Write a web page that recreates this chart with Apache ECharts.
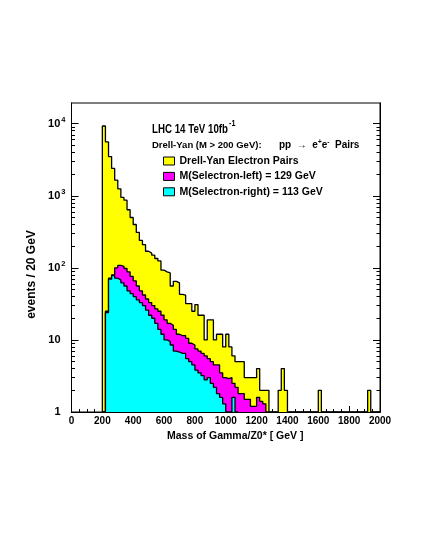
<!DOCTYPE html>
<html>
<head>
<meta charset="utf-8">
<script src="https://cdn.jsdelivr.net/npm/echarts@6/dist/echarts.min.js"></script>
<style>
  html, body { margin: 0; background: #fff; }
  #chart { width: 425px; height: 550px; }
</style>
</head>
<body>
<div id="chart"></div>
<script>
// 20 GeV bins, first lower edge at 200 GeV
const binLow = 200
const binWidth = 20

// events / 20 GeV, bins 200 ... 1980
const drellYan = [
  9300, 5600, 3500, 2400, 1650, 1250, 950, 870, 640, 500,
  400, 310, 240, 210, 170, 160, 150, 135, 125, 93,
  88, 85, 56, 65, 62, 43, 42, 32, 32, 25,
  31, 22, 22, 10, 19, 19, 10, 12, 12, 8,
  12, 8, 6, 5, 5, 5, 3, 3, 3, 3,
  4, 2, 2, 2, 0, 0, 0, 2, 4, 2,
  0, 0, 0, 0, 0, 0, 0, 0, 0, 0,
  2, 0, 0, 0, 0, 0, 0, 0, 0, 0,
  0, 0, 0, 0, 0, 0, 2, 0, 0, 0
]
const selLeft = [
  0, 25, 72, 80, 100, 108, 105, 98, 88, 76,
  66, 56, 48, 42, 37, 33, 30, 27, 25, 22,
  19, 17, 16, 14, 12, 11.5, 11.5, 10.5, 9, 8.5,
  7.5, 7, 6.5, 6, 5.5, 5, 4.5, 4.5, 3.5, 3,
  2.9, 3, 2.5, 2.2, 1.8, 1.8, 1.5, 1.5, 1.2, 1.2,
  1.6, 1.4, 1.3, 0
]
const selRight = [
  0, 24, 70, 78, 72, 68, 62, 56, 48, 44,
  40, 36, 33, 30, 26, 22, 20, 17, 14, 12,
  10, 9.5, 8.5, 7, 6.8, 6.5, 6.5, 5.5, 5, 4.5,
  3.8, 3.5, 3.2, 2.8, 3, 2.5, 2.2, 1.8, 1.6, 1.3,
  0, 0, 1.6, 0
]

const yMajor = [1, 10, 100, 1000, 10000]
const yMinor = [
  2, 3, 4, 5, 6, 7, 8, 9,
  20, 30, 40, 50, 60, 70, 80, 90,
  200, 300, 400, 500, 600, 700, 800, 900,
  2000, 3000, 4000, 5000, 6000, 7000, 8000, 9000
]

const FONT = '"Liberation Sans", Arial, Helvetica, sans-serif'

// histogram outline as a step line, empty bins sit on the axis floor
function histPoints(vals) {
  const pts = [[binLow, 1]]
  vals.forEach((v, i) => {
    pts.push([binLow + i * binWidth, Math.max(v, 1)])
  })
  pts.push([binLow + vals.length * binWidth, 1])
  return pts
}

function histSeries(name, vals, fill, z) {
  return {
    name: name,
    type: 'line',
    step: 'end',
    data: histPoints(vals),
    showSymbol: false,
    symbol: 'none',
    z: z,
    itemStyle: { color: fill },
    lineStyle: { color: '#000', width: 1.3 },
    areaStyle: { color: fill, opacity: 1, origin: 'start' },
    emphasis: { disabled: true }
  }
}

function logAxis(pos, ticks, len, labels) {
  return {
    type: 'log',
    logBase: 10,
    position: pos,
    min: 1,
    max: 19400,
    axisLine: { show: true, onZero: false, lineStyle: { color: '#000', width: 1 } },
    axisTick: { show: true, inside: true, length: len, customValues: ticks, lineStyle: { color: '#000' } },
    axisLabel: labels ? {
      show: true,
      customValues: yMajor,
      margin: 6,
      color: '#000',
      fontFamily: FONT,
      fontWeight: 'bold',
      fontSize: 11,
      formatter: function (v) {
        const e = Math.round(Math.log10(v))
        return e < 2 ? '{b|' + v + '}{sp|}' : '{b|10}{e|' + e + '}'
      },
      rich: {
        b: { fontSize: 11, fontWeight: 'bold', fontFamily: FONT, color: '#000' },
        e: { fontSize: 7.5, fontWeight: 'bold', fontFamily: FONT, color: '#000', padding: [0, 0, 8, 1] },
        sp: { width: 5 }
      }
    } : { show: false },
    splitLine: { show: false },
    name: labels ? 'events / 20 GeV' : '',
    nameLocation: 'middle',
    nameGap: 32,
    nameTextStyle: { fontFamily: FONT, fontWeight: 'bold', fontSize: 12, color: '#000', padding: [0, 34, 0, 0] }
  }
}

const chart = echarts.init(document.getElementById('chart'))
chart.setOption({
  animation: false,
  backgroundColor: '#fff',
  grid: {
    left: 71.5, right: 45, top: 103, bottom: 138,
    show: true, borderColor: '#000', borderWidth: 1, backgroundColor: 'transparent'
  },
  xAxis: {
    type: 'value',
    min: 0,
    max: 2000,
    interval: 200,
    axisLine: { show: true, onZero: false, lineStyle: { color: '#000' } },
    axisTick: { show: true, inside: true, length: 6, lineStyle: { color: '#000' } },
    minorTick: { show: true, splitNumber: 4, length: 3, lineStyle: { color: '#000' } },
    axisLabel: {
      color: '#000', fontFamily: FONT, fontWeight: 'bold', fontSize: 10, margin: 4,
      formatter: function (v) { return String(v) }
    },
    splitLine: { show: false },
    name: 'Mass of Gamma/Z0* [ GeV ]',
    nameLocation: 'middle',
    nameGap: 18,
    nameTextStyle: { fontFamily: FONT, fontWeight: 'bold', fontSize: 10.5, color: '#000', padding: [0, 0, 0, 19] }
  },
  yAxis: [
    logAxis('left', yMajor, 7, true),
    logAxis('left', yMinor, 3.5, false),
    logAxis('right', yMajor, 7, false),
    logAxis('right', yMinor, 3.5, false)
  ],
  legend: {
    orient: 'vertical',
    left: 163,
    top: 155.5,
    padding: 0,
    itemWidth: 11,
    itemHeight: 8,
    itemGap: 4.4,
    icon: 'rect',
    selectedMode: false,
    itemStyle: { borderColor: '#000', borderWidth: 1 },
    textStyle: { fontFamily: FONT, fontWeight: 'bold', fontSize: 10.5, color: '#000' },
    data: [
      { name: 'Drell-Yan Electron Pairs', itemStyle: { color: '#ffff00' } },
      { name: 'M(Selectron-left) = 129 GeV', itemStyle: { color: '#ff00ff' } },
      { name: 'M(Selectron-right) = 113 GeV', itemStyle: { color: '#00ffff' } }
    ]
  },
  graphic: [
    {
      type: 'text', x: 152, y: 129.5, scaleX: 0.72,
      style: {
        text: 'LHC 14 TeV 10fb', fontFamily: FONT, fontWeight: 'bold', fontSize: 13.5,
        fill: '#000', align: 'left', verticalAlign: 'middle'
      }
    },
    {
      type: 'text', x: 229, y: 123.5, scaleX: 0.8,
      style: {
        text: '-1', fontFamily: FONT, fontWeight: 'bold', fontSize: 9,
        fill: '#000', align: 'left', verticalAlign: 'middle'
      }
    },
    {
      type: 'text', x: 152, y: 145.3,
      style: {
        text: 'Drell-Yan (M > 200 GeV):', fontFamily: FONT, fontWeight: 'bold', fontSize: 9.5,
        fill: '#000', align: 'left', verticalAlign: 'middle'
      }
    },
    {
      type: 'text', x: 279, y: 145.3,
      style: {
        text: '{n|pp}{a|  \u2192  }{n|e}{s|+}{n|e}{s|-}{n|  Pairs}',
        align: 'left', verticalAlign: 'middle',
        rich: {
          n: { fontFamily: FONT, fontWeight: 'bold', fontSize: 10, fill: '#000' },
          a: { fontFamily: FONT, fontSize: 10, fill: '#000' },
          s: { fontFamily: FONT, fontWeight: 'bold', fontSize: 6.5, fill: '#000', padding: [0, 0, 6, 0] }
        }
      }
    }
  ],
  series: [
    histSeries('Drell-Yan Electron Pairs', drellYan, '#ffff00', 2),
    histSeries('M(Selectron-left) = 129 GeV', selLeft, '#ff00ff', 3),
    histSeries('M(Selectron-right) = 113 GeV', selRight, '#00ffff', 4)
  ]
})
</script>
</body>
</html>
